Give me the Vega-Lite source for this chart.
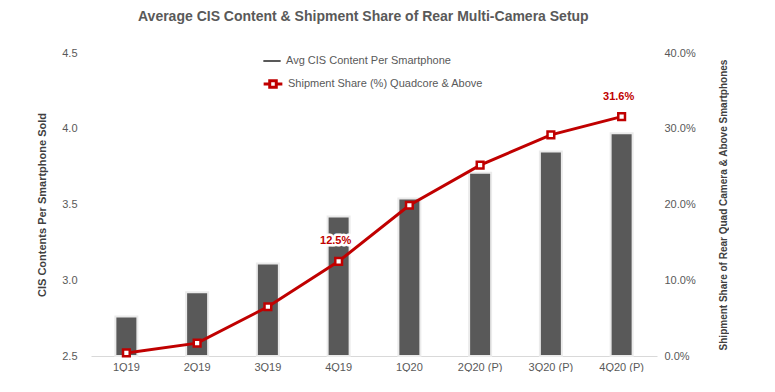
{
  "$schema": "https://vega.github.io/schema/vega-lite/v6.json",
  "width": 566,
  "height": 303,
  "padding": {"left": 36, "top": 10, "right": 0, "bottom": 0},
  "background": "white",
  "config": {
    "view": {"stroke": null},
    "font": "Liberation Sans, Arial",
    "axis": {"labelColor": "#595959", "labelFontSize": 11, "titleColor": "#404040", "titleFontSize": 11, "titleFontWeight": "bold", "grid": false, "ticks": false},
    "legend": {"labelColor": "#595959", "labelFontSize": 11, "labelLimit": 400}
  },
  "title": {
    "text": "Average CIS Content & Shipment Share of Rear Multi-Camera Setup",
    "fontSize": 14,
    "fontWeight": "bold",
    "color": "#595959",
    "anchor": "start",
    "frame": "group",
    "dx": 47,
    "offset": 23
  },
  "data": {
    "values": [
      {"quarter": "1Q19", "cis": 2.76, "share": 0.004},
      {"quarter": "2Q19", "cis": 2.92, "share": 0.017},
      {"quarter": "3Q19", "cis": 3.11, "share": 0.065},
      {"quarter": "4Q19", "cis": 3.42, "share": 0.125},
      {"quarter": "1Q20", "cis": 3.54, "share": 0.199},
      {"quarter": "2Q20 (P)", "cis": 3.71, "share": 0.252},
      {"quarter": "3Q20 (P)", "cis": 3.85, "share": 0.292},
      {"quarter": "4Q20 (P)", "cis": 3.97, "share": 0.316}
    ]
  },
  "encoding": {
    "x": {
      "field": "quarter",
      "type": "ordinal",
      "sort": null,
      "scale": {"paddingInner": 0, "paddingOuter": 0},
      "axis": {"title": null, "labelAngle": 0, "labelPadding": 5, "domain": true, "domainColor": "#d9d9d9", "domainWidth": 1}
    }
  },
  "layer": [
    {
      "mark": {"type": "bar", "size": 22, "stroke": "#ebebeb", "strokeWidth": 2},
      "encoding": {
        "y": {
          "field": "cis",
          "type": "quantitative",
          "scale": {"domain": [2.5, 4.5], "zero": false, "nice": false},
          "axis": {"title": "CIS Contents Per Smartphone Sold", "values": [2.5, 3.0, 3.5, 4.0, 4.5], "format": ".1f", "domain": false, "labelPadding": 14, "titlePadding": 14}
        },
        "y2": {"datum": 2.5},
        "color": {
          "datum": "Avg CIS Content Per Smartphone",
          "scale": {"range": ["#595959"]},
          "legend": {"title": null, "orient": "none", "legendX": 171, "legendY": -2, "symbolType": "stroke", "symbolStrokeWidth": 2, "symbolSize": 300, "symbolStrokeColor": "#595959"}
        }
      }
    },
    {
      "layer": [
        {
          "mark": {"type": "line", "strokeWidth": 3},
          "encoding": {
            "y": {
              "field": "share",
              "type": "quantitative",
              "scale": {"domain": [0, 0.4], "nice": false},
              "axis": {"orient": "right", "title": "Shipment Share of Rear Quad Camera  & Above Smartphones", "titleAngle": 270, "format": ".1%", "values": [0, 0.1, 0.2, 0.3, 0.4], "domain": false, "labelPadding": 7, "titlePadding": 33, "titleFontSize": 10}
            },
            "stroke": {
              "datum": "Shipment Share (%) Quadcore & Above",
              "scale": {"range": ["#C00000"]},
              "legend": {"title": null, "orient": "none", "legendX": 171, "legendY": 20, "symbolType": "M-1,0H-0.35M0.35,0H1M-0.35,-0.35H0.35V0.35H-0.35Z", "symbolStrokeWidth": 3, "symbolSize": 350, "symbolFillColor": "white", "symbolStrokeColor": "#C00000"}
            }
          }
        },
        {
          "mark": {"type": "point", "shape": "square", "size": 45, "filled": true, "fill": "white", "stroke": "#C00000", "strokeWidth": 2.5, "opacity": 1},
          "encoding": {
            "y": {"field": "share", "type": "quantitative"}
          }
        },
        {
          "transform": [{"filter": "datum.quarter === '4Q19' || datum.quarter === '4Q20 (P)'"}],
          "mark": {"type": "text", "dy": -20, "dx": -3, "fontWeight": "bold", "fontSize": 11, "color": "white", "stroke": "white", "strokeWidth": 5, "strokeJoin": "round"},
          "encoding": {
            "y": {"field": "share", "type": "quantitative"},
            "text": {"field": "share", "type": "quantitative", "format": ".1%"}
          }
        },
        {
          "transform": [{"filter": "datum.quarter === '4Q19' || datum.quarter === '4Q20 (P)'"}],
          "mark": {"type": "text", "dy": -20, "dx": -3, "fontWeight": "bold", "fontSize": 11, "color": "#C00000"},
          "encoding": {
            "y": {"field": "share", "type": "quantitative"},
            "text": {"field": "share", "type": "quantitative", "format": ".1%"}
          }
        }
      ]
    }
  ],
  "resolve": {"scale": {"y": "independent"}}
}
